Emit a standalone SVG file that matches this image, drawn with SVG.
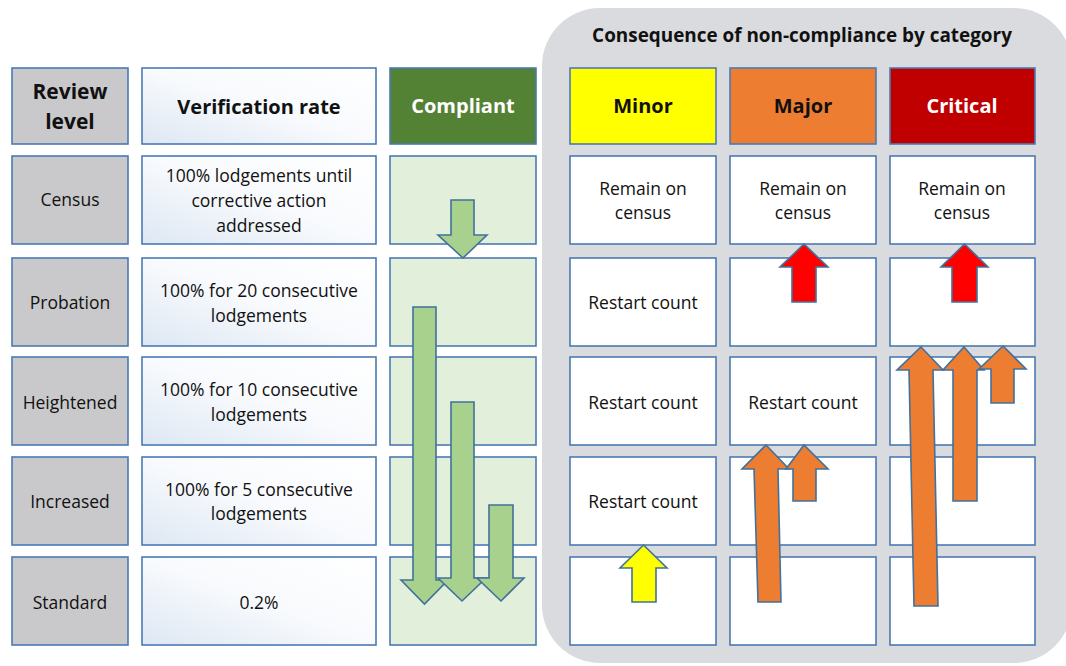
<svg xmlns="http://www.w3.org/2000/svg" width="1066" height="666" viewBox="0 0 1066 666">
<defs>
<linearGradient id="vg" x1="1" y1="0" x2="0" y2="1">
<stop offset="0" stop-color="#ffffff"/>
<stop offset="0.5" stop-color="#f8fafd"/>
<stop offset="1" stop-color="#dde7f3"/>
</linearGradient>
<style>
.cell{stroke:#4a7ab4;stroke-width:1.6}
.lvl{fill:#c9c9cb}
.ver{fill:url(#vg)}
.cmp{fill:#e2efda}
.wht{fill:#ffffff}
text{font-family:"Open Sans","Liberation Sans",sans-serif;text-anchor:middle;fill:#111}
.t{font-size:17.5px}
.h{font-size:20px;font-weight:bold}
.w{fill:#ffffff}
.arr{stroke:#41719c;stroke-width:1.6;stroke-linejoin:miter}
.g{fill:#a9d18e}
.o{fill:#ed7d31}
.r{fill:#ff0000}
.y{fill:#ffff00}
</style>
</defs>
<rect width="1066" height="666" fill="#ffffff"/>
<g id="panel">
<rect x="542" y="8" width="530" height="655" rx="58" fill="#dadbde"/>
<text x="802" y="42" class="h" style="font-size:18.9px">Consequence of non-compliance by category</text>
</g>
<g id="hdr-review"><rect class="cell lvl" x="12" y="68" width="116" height="76"/><text class="h" x="70" y="99" style="font-size:21px">Review</text><text class="h" x="70" y="129" style="font-size:21px">level</text></g>
<g id="hdr-verif"><rect class="cell ver" x="142" y="68" width="234" height="76"/><text class="h" x="259" y="114">Verification rate</text></g>
<g id="hdr-compliant"><rect class="cell" fill="#548235" x="390" y="68" width="146" height="76"/><text class="h w" x="463" y="113">Compliant</text></g>
<g id="hdr-minor"><rect class="cell" fill="#ffff00" x="570" y="68" width="146" height="76"/><text class="h" x="643" y="113">Minor</text></g>
<g id="hdr-major"><rect class="cell" fill="#ed7d31" x="730" y="68" width="146" height="76"/><text class="h" x="803" y="113">Major</text></g>
<g id="hdr-critical"><rect class="cell" fill="#c00000" x="890" y="68" width="145" height="76"/><text class="h w" x="962" y="113">Critical</text></g>

<g id="lvl-census"><rect class="cell lvl" x="12" y="156" width="116" height="88"/><text class="t" x="70" y="206">Census</text></g>
<g id="lvl-probation"><rect class="cell lvl" x="12" y="258" width="116" height="88"/><text class="t" x="70" y="309">Probation</text></g>
<g id="lvl-heightened"><rect class="cell lvl" x="12" y="357" width="116" height="88"/><text class="t" x="70" y="409">Heightened</text></g>
<g id="lvl-increased"><rect class="cell lvl" x="12" y="457" width="116" height="88"/><text class="t" x="70" y="508">Increased</text></g>
<g id="lvl-standard"><rect class="cell lvl" x="12" y="557" width="116" height="88"/><text class="t" x="70" y="609">Standard</text></g>

<g id="ver-census"><rect class="cell ver" x="142" y="156" width="234" height="88"/><text class="t" x="259" y="182">100% lodgements until</text><text class="t" x="259" y="207">corrective action</text><text class="t" x="259" y="232">addressed</text></g>
<g id="ver-probation"><rect class="cell ver" x="142" y="258" width="234" height="88"/><text class="t" x="259" y="297">100% for 20 consecutive</text><text class="t" x="259" y="322">lodgements</text></g>
<g id="ver-heightened"><rect class="cell ver" x="142" y="357" width="234" height="88"/><text class="t" x="259" y="396">100% for 10 consecutive</text><text class="t" x="259" y="421">lodgements</text></g>
<g id="ver-increased"><rect class="cell ver" x="142" y="457" width="234" height="88"/><text class="t" x="259" y="496">100% for 5 consecutive</text><text class="t" x="259" y="520">lodgements</text></g>
<g id="ver-standard"><rect class="cell ver" x="142" y="557" width="234" height="88"/><text class="t" x="259" y="609">0.2%</text></g>

<g id="cmp-census"><rect class="cell cmp" x="390" y="156" width="146" height="88"/></g>
<g id="cmp-probation"><rect class="cell cmp" x="390" y="258" width="146" height="88"/></g>
<g id="cmp-heightened"><rect class="cell cmp" x="390" y="357" width="146" height="88"/></g>
<g id="cmp-increased"><rect class="cell cmp" x="390" y="457" width="146" height="88"/></g>
<g id="cmp-standard"><rect class="cell cmp" x="390" y="557" width="146" height="88"/></g>

<g id="min-census"><rect class="cell wht" x="570" y="156" width="146" height="88"/><text class="t" x="643" y="195">Remain on</text><text class="t" x="643" y="219">census</text></g>
<g id="min-probation"><rect class="cell wht" x="570" y="258" width="146" height="88"/><text class="t" x="643" y="309">Restart count</text></g>
<g id="min-heightened"><rect class="cell wht" x="570" y="357" width="146" height="88"/><text class="t" x="643" y="409">Restart count</text></g>
<g id="min-increased"><rect class="cell wht" x="570" y="457" width="146" height="88"/><text class="t" x="643" y="508">Restart count</text></g>
<g id="min-standard"><rect class="cell wht" x="570" y="557" width="146" height="88"/></g>

<g id="maj-census"><rect class="cell wht" x="730" y="156" width="146" height="88"/><text class="t" x="803" y="195">Remain on</text><text class="t" x="803" y="219">census</text></g>
<g id="maj-probation"><rect class="cell wht" x="730" y="258" width="146" height="88"/></g>
<g id="maj-heightened"><rect class="cell wht" x="730" y="357" width="146" height="88"/><text class="t" x="803" y="409">Restart count</text></g>
<g id="maj-increased"><rect class="cell wht" x="730" y="457" width="146" height="88"/></g>
<g id="maj-standard"><rect class="cell wht" x="730" y="557" width="146" height="88"/></g>

<g id="crit-census"><rect class="cell wht" x="890" y="156" width="145" height="88"/><text class="t" x="962" y="195">Remain on</text><text class="t" x="962" y="219">census</text></g>
<g id="crit-probation"><rect class="cell wht" x="890" y="258" width="145" height="88"/></g>
<g id="crit-heightened"><rect class="cell wht" x="890" y="357" width="145" height="88"/></g>
<g id="crit-increased"><rect class="cell wht" x="890" y="457" width="145" height="88"/></g>
<g id="crit-standard"><rect class="cell wht" x="890" y="557" width="145" height="88"/></g>

<g id="connectors">
<polygon class="arr g" points="451,200 474,200 474,235 487,235 463,258 438,235 451,235"/>
<polygon class="arr g" points="413,307 436,307 436,580 448,580 424.5,604 401,580 413,580"/>
<polygon class="arr g" points="451,402 474,402 474,578 486,578 462,601 438,578 451,578"/>
<polygon class="arr g" points="489,505 513,505 513,578 524,578 501,601 477,578 489,578"/>

<polygon class="arr y" points="643.5,545 667,568 656,568 656,602 632,602 632,568 620,568"/>
<polygon class="arr r" points="804,244 828,267 816,267 816,302 792,302 792,267 780,267"/>
<polygon class="arr r" points="964.5,244 988,267 977,267 977,302 952,302 952,267 941,267"/>

<polygon class="arr o" points="766,445 789,469 778,469 781,602 758,602 754,469 742,469"/>
<polygon class="arr o" points="804,445 828,469 816,469 816,501 793,501 793,469 786,469"/>

<polygon class="arr o" points="921,347 943,370 933,370 938,606 914,606 909,370 897,370"/>
<polygon class="arr o" points="964,347 984,370 977,370 977,501 953,501 953,370 943,370"/>
<polygon class="arr o" points="1003,346 1026,369 1014,369 1014,403 991,403 991,369 979,369"/>
</g>
</svg>
